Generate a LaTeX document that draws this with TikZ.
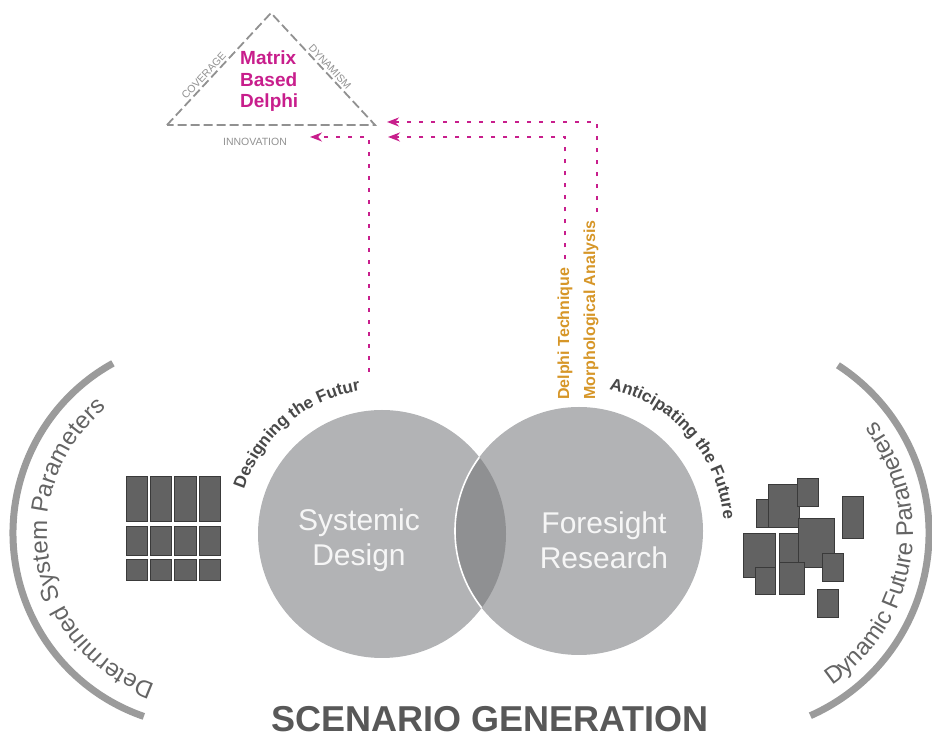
\documentclass[tikz,border=0pt]{standalone}
\usepackage{fontspec}
\setmainfont{Liberation Sans}
\usetikzlibrary{arrows.meta, decorations.text}

\definecolor{circgray}{RGB}{178,179,181}
\definecolor{lensgray}{RGB}{143,144,146}
\definecolor{circtxt}{RGB}{246,246,246}
\definecolor{bandgray}{RGB}{155,155,155}
\definecolor{labelgray}{RGB}{100,100,100}
\definecolor{curvegray}{RGB}{72,72,72}
\definecolor{titlegray}{RGB}{88,88,88}
\definecolor{blockfill}{RGB}{98,98,98}
\definecolor{blockline}{RGB}{58,58,58}
\definecolor{trigray}{RGB}{145,145,145}
\definecolor{dotmag}{RGB}{200,30,140}
\definecolor{techorange}{RGB}{214,150,40}

\begin{document}
\begin{tikzpicture}[
                    x=1pt, y=1pt,
                    band/.style={draw=bandgray, line width=7pt},
                    block/.style={fill=blockfill, draw=blockline, line width=0.8pt},
                    tri/.style={draw=trigray, line width=1.8pt, dash pattern=on 9pt off 4pt},
                    corner/.style={text=trigray, font=\fontsize{10.5}{12}\selectfont, inner sep=2pt},
                    dotarrow/.style={draw=dotmag, line width=2pt, dash pattern=on 4pt off 8pt,
                        -{Stealth[length=12pt, width=9pt]}},
                    technique/.style={rotate=90, inner sep=0pt, text=techorange,
                        font=\fontsize{16}{18}\selectfont\bfseries},
                    circtext/.style={align=center, text=circtxt,
                        font=\fontsize{30}{35}\selectfont},
                    mbd/.style={align=left, inner sep=0pt, text=dotmag,
                        font=\fontsize{19}{21.5}\selectfont\bfseries},
                    title/.style={text=titlegray, font=\fontsize{36}{40}\selectfont\bfseries}
                ]
                \useasboundingbox (0,0) rectangle (932,736);

                % side rings
                \draw[band] (207,203) ++(119:194) arc[start angle=119, end angle=251, radius=194];
                \draw[band] (729,203) ++(-66:200) arc[start angle=-66, end angle=57, radius=200];
                \path[decorate, decoration={text along path,
                    text={|\fontsize{24}{28}\selectfont\color{labelgray}|Determined System Parameters}}]
                    (207,203) ++(251:160) arc[start angle=251, end angle=105, radius=160];
                \path[decorate, decoration={text along path,
                    text={|\fontsize{24}{28}\selectfont\color{labelgray}|Dynamic Future Parameters}}]
                    (729,203) ++(-56:184) arc[start angle=-56, end angle=60, radius=184];

                % two circles
                \coordinate (sysC) at (382,202);
                \coordinate (forC) at (579,205);
                \fill[circgray] (sysC) circle[radius=124];
                \fill[circgray] (forC) circle[radius=124];
                \begin{scope}
                    \clip (sysC) circle[radius=124];
                    \fill[lensgray] (forC) circle[radius=124];
                    \draw[white, line width=1.6pt] (forC) circle[radius=124];
                \end{scope}
                \node[circtext] (sysTxt) at (359,196) {Systemic\\Design};
                \node[circtext] (forTxt) at (604,196) {Foresight\\Research};

                \path[decorate, decoration={text along path,
                    text={|\fontsize{17}{19}\selectfont\bfseries\color{curvegray}|Designing the Futur}}]
                    (sysC) ++(162:145) arc[start angle=162, end angle=85, radius=145];
                \path[decorate, decoration={text along path,
                    text={|\fontsize{17}{19}\selectfont\bfseries\color{curvegray}|Anticipating the Future}}]
                    (forC) ++(78:145) arc[start angle=78, end angle=-15, radius=145];

                % parameter blocks
                \foreach \c in {0,...,3}
                    \foreach \yb/\h in {215/45, 181/29, 156/21}
                        \draw[block] ({126+24.4*\c},\yb) rectangle ++(21.4,\h);
                \foreach \xa/\ya/\xb/\yb in {756/209/770/237, 768/209/799/252, 797/230/818/258,
                                             779/174/798/203, 743/159/775/203, 798/169/834/218,
                                             842/198/863/240, 755/142/775/169, 779/142/804/174,
                                             822/155/843/183, 817/119/838/147}
                    \draw[block] (\xa,\ya) rectangle (\xb,\yb);

                % matrix based delphi
                \coordinate (apex) at (271,723);
                \coordinate (triL) at (167,611);
                \coordinate (triR) at (375,611);
                \draw[tri] (triL) -- node[corner, sloped, above, pos=0.4] (cov) {COVERAGE} (apex)
                    -- node[corner, sloped, above, pos=0.52] (dyn) {DYNAMISM} (triR) -- cycle;
                \node[corner] (innov) at (255,594) {INNOVATION};
                \node[mbd, anchor=north west] (mbdTxt) at (240,685) {Matrix\\Based\\Delphi};

                \node[technique, anchor=base west] (delphi) at (569,336) {Delphi Technique};
                \node[technique, anchor=base west] (morph) at (595,336) {Morphological Analysis};

                \coordinate (designTop) at (369,364);
                \coordinate (innovTip) at (310,599);
                \coordinate (delphiTip) at (388,599);
                \coordinate (morphTip) at (387,614);
                \draw[dotarrow] (designTop) |- (innovTip);
                \draw[dotarrow, shorten <=8pt] (delphi.east) |- (delphiTip);
                \draw[dotarrow, shorten <=8pt] ([xshift=6pt]morph.east) |- (morphTip);

                \node[title, anchor=base] (scen) at (490,4) {SCENARIO GENERATION};
            \end{tikzpicture}
\end{document}
